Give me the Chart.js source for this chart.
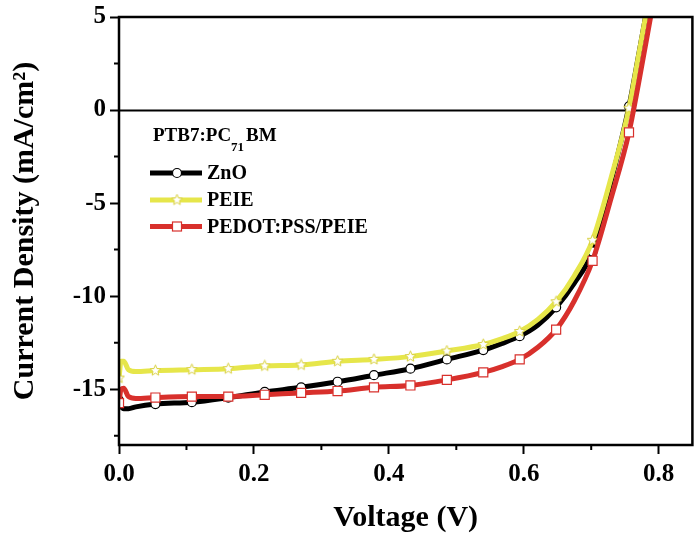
<!DOCTYPE html>
<html lang="en">
<head>
  <meta charset="UTF-8" />
  <title>PTB7:PC71BM J-V curves</title>
  <script src="https://cdn.jsdelivr.net/npm/chart.js"></script>
  <style>
    body {
      margin: 0;
      padding: 0;
      background: #fff;
    }
    .wrap {
      width: 700px;
      height: 541px;
    }
  </style>
</head>
<body>
  <div class="wrap">
    <canvas id="jvChart" width="700" height="541"></canvas>
  </div>

  <script>
    // voltage grid (V), shared by the three curves
    const voltage = [0, 0.003, 0.007, 0.014, 0.025, 0.054, 0.108, 0.162, 0.216, 0.270, 0.324, 0.378,
      0.432, 0.486, 0.540, 0.567, 0.594, 0.621, 0.648, 0.675, 0.702, 0.729, 0.756, 0.770, 0.790];

    // current density (mA/cm2)
    const jZnO = [-15.6, -15.9, -16.05, -16.05, -15.95, -15.8, -15.7, -15.45, -15.15, -14.9, -14.6, -14.25,
      -13.9, -13.4, -12.9, -12.55, -12.15, -11.55, -10.6, -9.3, -7.6, -3.9, 0.2, 2.9, 6.9];
    const jPEIE = [-14.4, -13.5, -13.5, -13.95, -14.05, -14.0, -13.95, -13.9, -13.75, -13.7, -13.5, -13.4,
      -13.25, -12.95, -12.6, -12.3, -11.9, -11.25, -10.3, -8.9, -7.0, -3.7, 0.1, 2.9, 6.9];
    const jPedot = [-15.75, -15.0, -14.95, -15.4, -15.5, -15.45, -15.4, -15.4, -15.3, -15.2, -15.1, -14.9,
      -14.8, -14.5, -14.1, -13.8, -13.4, -12.75, -11.8, -10.25, -8.1, -4.8, -1.2, 1.4, 5.4];

    // voltages that carry a symbol
    const markerVolts = [0, 0.054, 0.108, 0.162, 0.216, 0.270, 0.324, 0.378, 0.432, 0.486, 0.540,
      0.594, 0.648, 0.702, 0.756];

    const seriesNames = ['ZnO', 'PEIE', 'PEDOT:PSS/PEIE'];

    const xMajor = [0, 0.2, 0.4, 0.6, 0.8];
    const xMinor = [0.1, 0.3, 0.5, 0.7];
    const yMajor = [-15, -10, -5, 0, 5];
    const yMinor = [-17.5, -12.5, -7.5, -2.5, 2.5];

    const BLACK = '#000000';
    const YELLOW = '#e6e64a';
    const RED = '#d8302c';
    const SERIF = "'Liberation Serif', 'DejaVu Serif', serif";

    function makeStar(size, fill, stroke) {
      const c = document.createElement('canvas');
      c.width = c.height = size;
      const g = c.getContext('2d');
      const cx = size / 2, cy = size / 2, R = size / 2 - 0.8, r = R * 0.45;
      g.beginPath();
      for (let i = 0; i < 10; i++) {
        const a = -Math.PI / 2 + i * Math.PI / 5;
        const rr = i % 2 ? r : R;
        g.lineTo(cx + rr * Math.cos(a), cy + rr * Math.sin(a));
      }
      g.closePath();
      g.fillStyle = fill;
      g.fill();
      g.strokeStyle = stroke;
      g.lineWidth = 1;
      g.stroke();
      return c;
    }
    const starImg = makeStar(13, '#ffffff', '#d8d040');

    const toPoints = ys => voltage.map((v, i) => ({ x: v, y: ys[i] }));
    const isMarker = v => markerVolts.some(m => Math.abs(m - v) < 1e-6);
    const markerRadius = r => ctx => (ctx.raw && isMarker(ctx.raw.x)) ? r : 0;

    function lineSet(label, ys, color, style, radius, order) {
      return {
        label: label,
        data: toPoints(ys),
        borderColor: color,
        borderWidth: 5,
        backgroundColor: '#ffffff',
        pointStyle: style,
        pointRadius: markerRadius(radius),
        pointBorderColor: color,
        pointBorderWidth: 1.2,
        pointBackgroundColor: '#ffffff',
        cubicInterpolationMode: 'monotone',
        fill: false,
        order: order
      };
    }

    // zero line, frame, minor ticks and the legend block
    const decorations = {
      id: 'decorations',
      beforeDatasetsDraw(chart) {
        const { ctx, chartArea: a, scales: { y } } = chart;
        const y0 = Math.round(y.getPixelForValue(0)) + 0.5;
        ctx.save();
        ctx.strokeStyle = BLACK;
        ctx.lineWidth = 2;
        ctx.beginPath();
        ctx.moveTo(a.left, y0);
        ctx.lineTo(a.right, y0);
        ctx.stroke();
        ctx.restore();
      },
      afterDatasetsDraw(chart) {
        const { ctx, chartArea: a, scales: { x, y } } = chart;
        ctx.save();
        ctx.strokeStyle = BLACK;
        ctx.lineWidth = 2.5;
        ctx.strokeRect(a.left, a.top, a.right - a.left, a.bottom - a.top);

        ctx.lineWidth = 2;
        ctx.beginPath();
        xMinor.forEach(v => {
          const px = x.getPixelForValue(v);
          ctx.moveTo(px, a.bottom);
          ctx.lineTo(px, a.bottom + 5);
        });
        yMinor.forEach(v => {
          const py = y.getPixelForValue(v);
          ctx.moveTo(a.left, py);
          ctx.lineTo(a.left - 5, py);
        });
        ctx.stroke();

        // legend title with subscript
        ctx.fillStyle = BLACK;
        ctx.textBaseline = 'alphabetic';
        ctx.font = 'bold 19px ' + SERIF;
        let tx = 153;
        ctx.fillText('PTB7:PC', tx, 141);
        tx += ctx.measureText('PTB7:PC').width;
        ctx.font = 'bold 13px ' + SERIF;
        ctx.fillText('71', tx, 151);
        tx += ctx.measureText('71').width + 2;
        ctx.font = 'bold 19px ' + SERIF;
        ctx.fillText('BM', tx, 141);

        const rows = [173, 200, 226.5];
        const colors = [BLACK, YELLOW, RED];
        rows.forEach((ry, i) => {
          ctx.strokeStyle = colors[i];
          ctx.lineWidth = 5;
          ctx.beginPath();
          ctx.moveTo(150, ry);
          ctx.lineTo(202, ry);
          ctx.stroke();
          ctx.lineWidth = 1.2;
          ctx.fillStyle = '#ffffff';
          if (i === 0) {
            ctx.beginPath();
            ctx.arc(177, ry, 4.5, 0, Math.PI * 2);
            ctx.fill();
            ctx.stroke();
          } else if (i === 1) {
            ctx.drawImage(starImg, 177 - starImg.width / 2, ry - starImg.height / 2);
          } else {
            ctx.fillRect(172.5, ry - 4.5, 9, 9);
            ctx.strokeRect(172.5, ry - 4.5, 9, 9);
          }
          ctx.fillStyle = BLACK;
          ctx.font = 'bold 20px ' + SERIF;
          ctx.textBaseline = 'middle';
          ctx.fillText(seriesNames[i], 207, ry + 1);
        });
        ctx.restore();
      }
    };

    new Chart(document.getElementById('jvChart'), {
      type: 'line',
      data: {
        datasets: [
          lineSet(seriesNames[0], jZnO, BLACK, 'circle', 4.5, 3),
          lineSet(seriesNames[1], jPEIE, YELLOW, starImg, 6, 2),
          lineSet(seriesNames[2], jPedot, RED, 'rect', 6.4, 1)
        ]
      },
      options: {
        responsive: false,
        animation: false,
        events: [],
        layout: { padding: { top: 17, right: 3, left: 0, bottom: 0 } },
        plugins: {
          legend: { display: false },
          tooltip: { enabled: false }
        },
        scales: {
          x: {
            type: 'linear',
            min: 0,
            max: 0.85,
            afterFit: s => { s.height = 96; },
            afterBuildTicks: s => { s.ticks = xMajor.map(v => ({ value: v })); },
            border: { display: false },
            grid: { drawOnChartArea: false, drawTicks: true, tickLength: 9, tickWidth: 2, tickColor: BLACK },
            ticks: {
              color: BLACK,
              padding: 8,
              maxRotation: 0,
              font: { family: SERIF, size: 25, weight: 'bold', lineHeight: 1 },
              callback: v => v.toFixed(1)
            },
            title: {
              display: true,
              text: 'Voltage (V)',
              color: BLACK,
              padding: { top: 0, bottom: 8 },
              font: { family: SERIF, size: 30, weight: 'bold', lineHeight: 1 }
            }
          },
          y: {
            type: 'linear',
            min: -18,
            max: 5,
            afterFit: s => { s.width = 119; },
            afterBuildTicks: s => { s.ticks = yMajor.map(v => ({ value: v })); },
            border: { display: false },
            grid: { drawOnChartArea: false, drawTicks: true, tickLength: 9, tickWidth: 2, tickColor: BLACK },
            ticks: {
              color: BLACK,
              padding: 4,
              font: { family: SERIF, size: 25, weight: 'bold', lineHeight: 1 },
              callback: v => String(v)
            },
            title: {
              display: true,
              text: 'Current Density (mA/cm²)',
              color: BLACK,
              padding: { top: 10, bottom: 0 },
              font: { family: SERIF, size: 30, weight: 'bold', lineHeight: 1 }
            }
          }
        }
      },
      plugins: [decorations]
    });
  </script>
</body>
</html>
